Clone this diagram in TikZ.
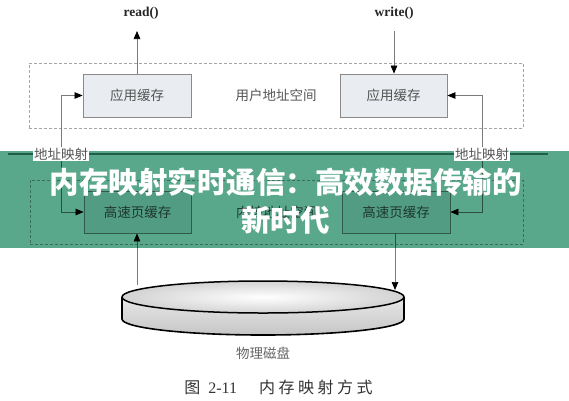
\documentclass[tikz,border=0pt]{standalone}
\usepackage{fontspec}
\setmainfont{Liberation Serif}
\newfontfamily\cjk{Noto Sans CJK SC}
\usetikzlibrary{arrows.meta}
\definecolor{boxfill}{HTML}{E9EDF1}
\definecolor{boxline}{HTML}{8A8A8A}
\definecolor{lineg}{HTML}{7A7A7A}
\definecolor{txtg}{HTML}{555555}
\definecolor{banner}{HTML}{5AA88C}
\definecolor{darkband}{HTML}{1F5E47}
\pgfdeclarelayer{over}
\pgfsetlayers{main,over}
\begin{document}
\begin{tikzpicture}[x=1pt,y=-1pt,
  box/.style={draw=boxline, fill=boxfill, line width=0.8pt, minimum height=43pt, inner sep=0pt,
    font=\cjk\fontsize{13.5}{14}\selectfont, text=txtg},
  space/.style={draw=gray!70, dash pattern=on 3pt off 2pt, line width=0.8pt, inner sep=0pt,
    font=\cjk\fontsize{13.5}{14}\selectfont, text=txtg},
  conn/.style={draw=lineg, line width=0.7pt},
  tipped/.style={-{Triangle[length=8pt,width=6.5pt,color=black]}},
  lbl/.style={font=\cjk\fontsize{13.5}{14}\selectfont, text=txtg, fill=white, inner sep=1pt},
  fn/.style={font=\bfseries\fontsize{13.5}{14}\selectfont, text=black!85}
]
\useasboundingbox (0,0) rectangle (569,400);
\fill[white] (0,0) rectangle (569,400);

% address spaces
\node[space, minimum width=494pt, minimum height=65pt] (user) at (276,95.5) {用户地址空间};
\node[space, minimum width=493pt, minimum height=64pt] (kern) at (276.5,212) {内核地址空间};

% boxes
\node[box, minimum width=108pt] (app1) at (137,95.5) {应用缓存};
\node[box, minimum width=107pt] (app2) at (393.5,95.5) {应用缓存};
\node[box, minimum width=107pt, minimum height=42pt] (pc1) at (137.5,212) {高速页缓存};
\node[box, minimum width=108pt, minimum height=42pt] (pc2) at (396,212) {高速页缓存};

% functions
\node[fn] (rd) at (141,13) {read()};
\node[fn] (wr) at (394,13) {write()};
\coordinate (rdend) at (137,31);
\coordinate (wrstart) at (394,31);
\draw[conn, tipped] (app1.north -| rdend) -- (rdend);
\draw[conn, tipped] (wrstart) -- (app2.north -| wrstart);

% mapping labels (above the banner)
\begin{pgfonlayer}{over}
\node[lbl] (map1) at (61,154) {地址映射};
\node[lbl] (map2) at (482,154) {地址映射};
\end{pgfonlayer}
\draw[conn, tipped] (map1.north) |- (app1.west);
\draw[conn, tipped] (map2.north) |- (app2.east);
\draw[conn, tipped] (map1.south) |- (pc1.west);
\draw[conn, tipped] (map2.south) |- (pc2.east);

% disk
\shade[top color=gray!18, bottom color=gray!45]
  (122,297) -- (122,319) arc[start angle=180, end angle=0, x radius=141, y radius=16] -- (404,297) -- cycle;
\draw[line width=1.6pt]
  (122,297) -- (122,319) arc[start angle=180, end angle=0, x radius=141, y radius=16] -- (404,297);
\shade[inner color=white, outer color=gray!35, draw=black, line width=1.5pt]
  (263,297) ellipse[x radius=141, y radius=16];
\coordinate (d1) at (137,285);
\coordinate (d2) at (395,290);
\draw[conn, tipped] (d1) -- (pc1.south -| d1);
\draw[conn, tipped] (pc2.south -| d2) -- (d2);
\node[font=\cjk\fontsize{13.5}{14}\selectfont, text=gray!80!black] (disk) at (263,353) {物理磁盘};

% caption
\node[font=\cjk\fontsize{16}{18}\selectfont, text=black!80, inner sep=0pt] (cap) at (278.5,387)
  {图\hspace{8pt}{\rmfamily 2-11}\hspace{22pt}内\hspace{3.5pt}存\hspace{3.5pt}映\hspace{3.5pt}射\hspace{3.5pt}方\hspace{3.5pt}式};

% banner overlay
\fill[banner, blend mode=multiply] (0,151) rectangle (569,248);
\draw[darkband, line width=2pt] (8,154) -- (548,154);
\node[font=\cjk\bfseries\fontsize{29.5}{38}\selectfont, text=white, align=center] (title) at (285.5,201)
  {内存映射实时通信：高效数据传输的\\新时代};
\end{tikzpicture}
\end{document}
